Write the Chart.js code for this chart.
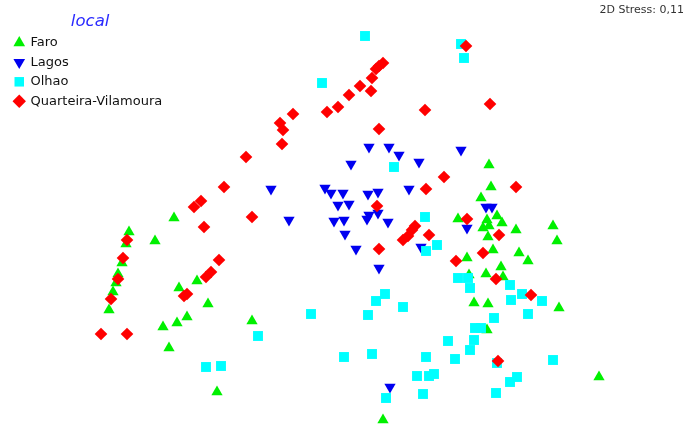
<!DOCTYPE html>
<html>
<head>
<meta charset="utf-8">
<script src="https://cdn.jsdelivr.net/npm/chart.js@4/dist/chart.umd.min.js"></script>
<style>
  body { margin: 0; background: #fff; }
  #wrap { width: 687px; height: 426px; position: relative; }
</style>
</head>
<body>
<div id="wrap"><canvas id="mds"></canvas></div>
<script>
// nMDS ordination, points per locality (plot units)
const faro = [
  [129,232],[126,244],[155,241],[174,218],[122,263],[118,274],[116,283],[113,292],[109,310],
  [197,281],[179,288],[208,304],[187,317],[177,323],[163,327],[252,321],[169,348],[217,392],
  [383,420],[599,377],[489,165],[491,187],[481,198],[458,219],[487,220],[497,216],[502,223],
  [483,228],[489,226],[516,230],[553,226],[557,241],[488,237],[493,250],[467,258],[519,253],
  [528,261],[501,267],[486,274],[503,277],[469,275],[474,303],[488,304],[559,308],[487,330]
];
const lagos = [
  [271,189],[289,220],[325,188],[331,193],[343,193],[368,194],[378,192],[409,189],[461,150],
  [369,147],[389,147],[399,155],[419,162],[351,164],[338,205],[349,204],[334,221],[344,220],
  [367,219],[369,215],[378,213],[388,222],[345,234],[356,249],[379,268],[421,247],[467,228],
  [486,207],[492,207],[390,387]
];
const olhao = [
  [365,36],[461,44],[464,58],[322,83],[394,167],[425,217],[437,245],[426,251],[458,278],
  [468,278],[470,288],[510,285],[385,294],[376,301],[403,307],[511,300],[522,294],[542,301],
  [528,314],[494,318],[475,328],[481,328],[474,340],[448,341],[470,350],[426,357],[455,359],
  [497,363],[553,360],[417,376],[429,376],[434,374],[517,377],[510,382],[386,398],[423,394],
  [496,393],[258,336],[311,314],[368,315],[206,367],[221,366],[344,357],[372,354]
];
const quarteira = [
  [466,46],[383,63],[379,66],[376,69],[372,78],[360,86],[371,91],[349,95],[338,107],[327,112],
  [425,110],[490,104],[293,114],[280,123],[283,130],[379,129],[282,144],[246,157],[224,187],
  [201,201],[194,207],[252,217],[204,227],[127,240],[123,258],[118,279],[111,299],[101,334],
  [127,334],[219,260],[206,277],[211,272],[184,296],[187,294],[444,177],[426,189],[377,206],
  [415,226],[412,230],[408,236],[403,240],[429,235],[379,249],[467,219],[516,187],[499,235],
  [483,253],[456,261],[496,279],[531,295],[498,361]
];
const groupNames = ['Faro', 'Lagos', 'Olhao', 'Quarteira-Vilamoura'];
const stressText = '2D Stress: 0,11';

const FONT = '"DejaVu Sans", Verdana, sans-serif';
const toXY = (arr) => arr.map(p => ({ x: p[0], y: p[1] }));

const stressLabel = {
  id: 'stressLabel',
  afterDraw(chart) {
    const ctx = chart.ctx;
    ctx.save();
    ctx.font = '11px ' + FONT;
    ctx.fillStyle = '#333';
    ctx.textAlign = 'right';
    ctx.textBaseline = 'middle';
    ctx.fillText(stressText, 684, 10);
    ctx.restore();
  }
};

new Chart(document.getElementById('mds'), {
  type: 'scatter',
  data: {
    datasets: [
      { label: groupNames[0], data: toXY(faro), pointStyle: 'triangle', pointRadius: 6.5,
        backgroundColor: '#00f000', borderColor: '#00f000', borderWidth: 0, order: 3 },
      { label: groupNames[1], data: toXY(lagos), pointStyle: 'triangle', rotation: 180, pointRadius: 6.5,
        backgroundColor: '#0000f0', borderColor: '#0000f0', borderWidth: 0, order: 2 },
      { label: groupNames[2], data: toXY(olhao), pointStyle: 'rect', pointRadius: 7,
        backgroundColor: '#00ffff', borderColor: '#00ffff', borderWidth: 0, order: 1 },
      { label: groupNames[3], data: toXY(quarteira), pointStyle: 'rectRot', pointRadius: 6.3,
        backgroundColor: '#ff0000', borderColor: '#ff0000', borderWidth: 0, order: 0 }
    ]
  },
  options: {
    responsive: true,
    maintainAspectRatio: false,
    animation: false,
    layout: { autoPadding: false, padding: { left: 8, top: 0, right: 0, bottom: 0 } },
    scales: {
      x: { type: 'linear', display: false, min: 8, max: 687 },
      y: { type: 'linear', display: false, min: 0, max: 426, reverse: true }
    },
    plugins: {
      tooltip: { enabled: false },
      legend: {
        position: 'chartArea',
        align: 'start',
        title: {
          display: true,
          text: 'local',
          color: '#2a2aff',
          font: { family: FONT, size: 16.5, style: 'italic' },
          padding: { top: 13, bottom: -3 }
        },
        labels: {
          usePointStyle: true,
          boxWidth: 9.5,
          boxHeight: 9.5,
          padding: 6.5,
          color: '#111',
          font: { family: FONT, size: 13 },
          sort: (a, b) => a.datasetIndex - b.datasetIndex
        }
      }
    },
    elements: { point: { hoverRadius: 6.5 } }
  },
  plugins: [stressLabel]
});
</script>
</body>
</html>
